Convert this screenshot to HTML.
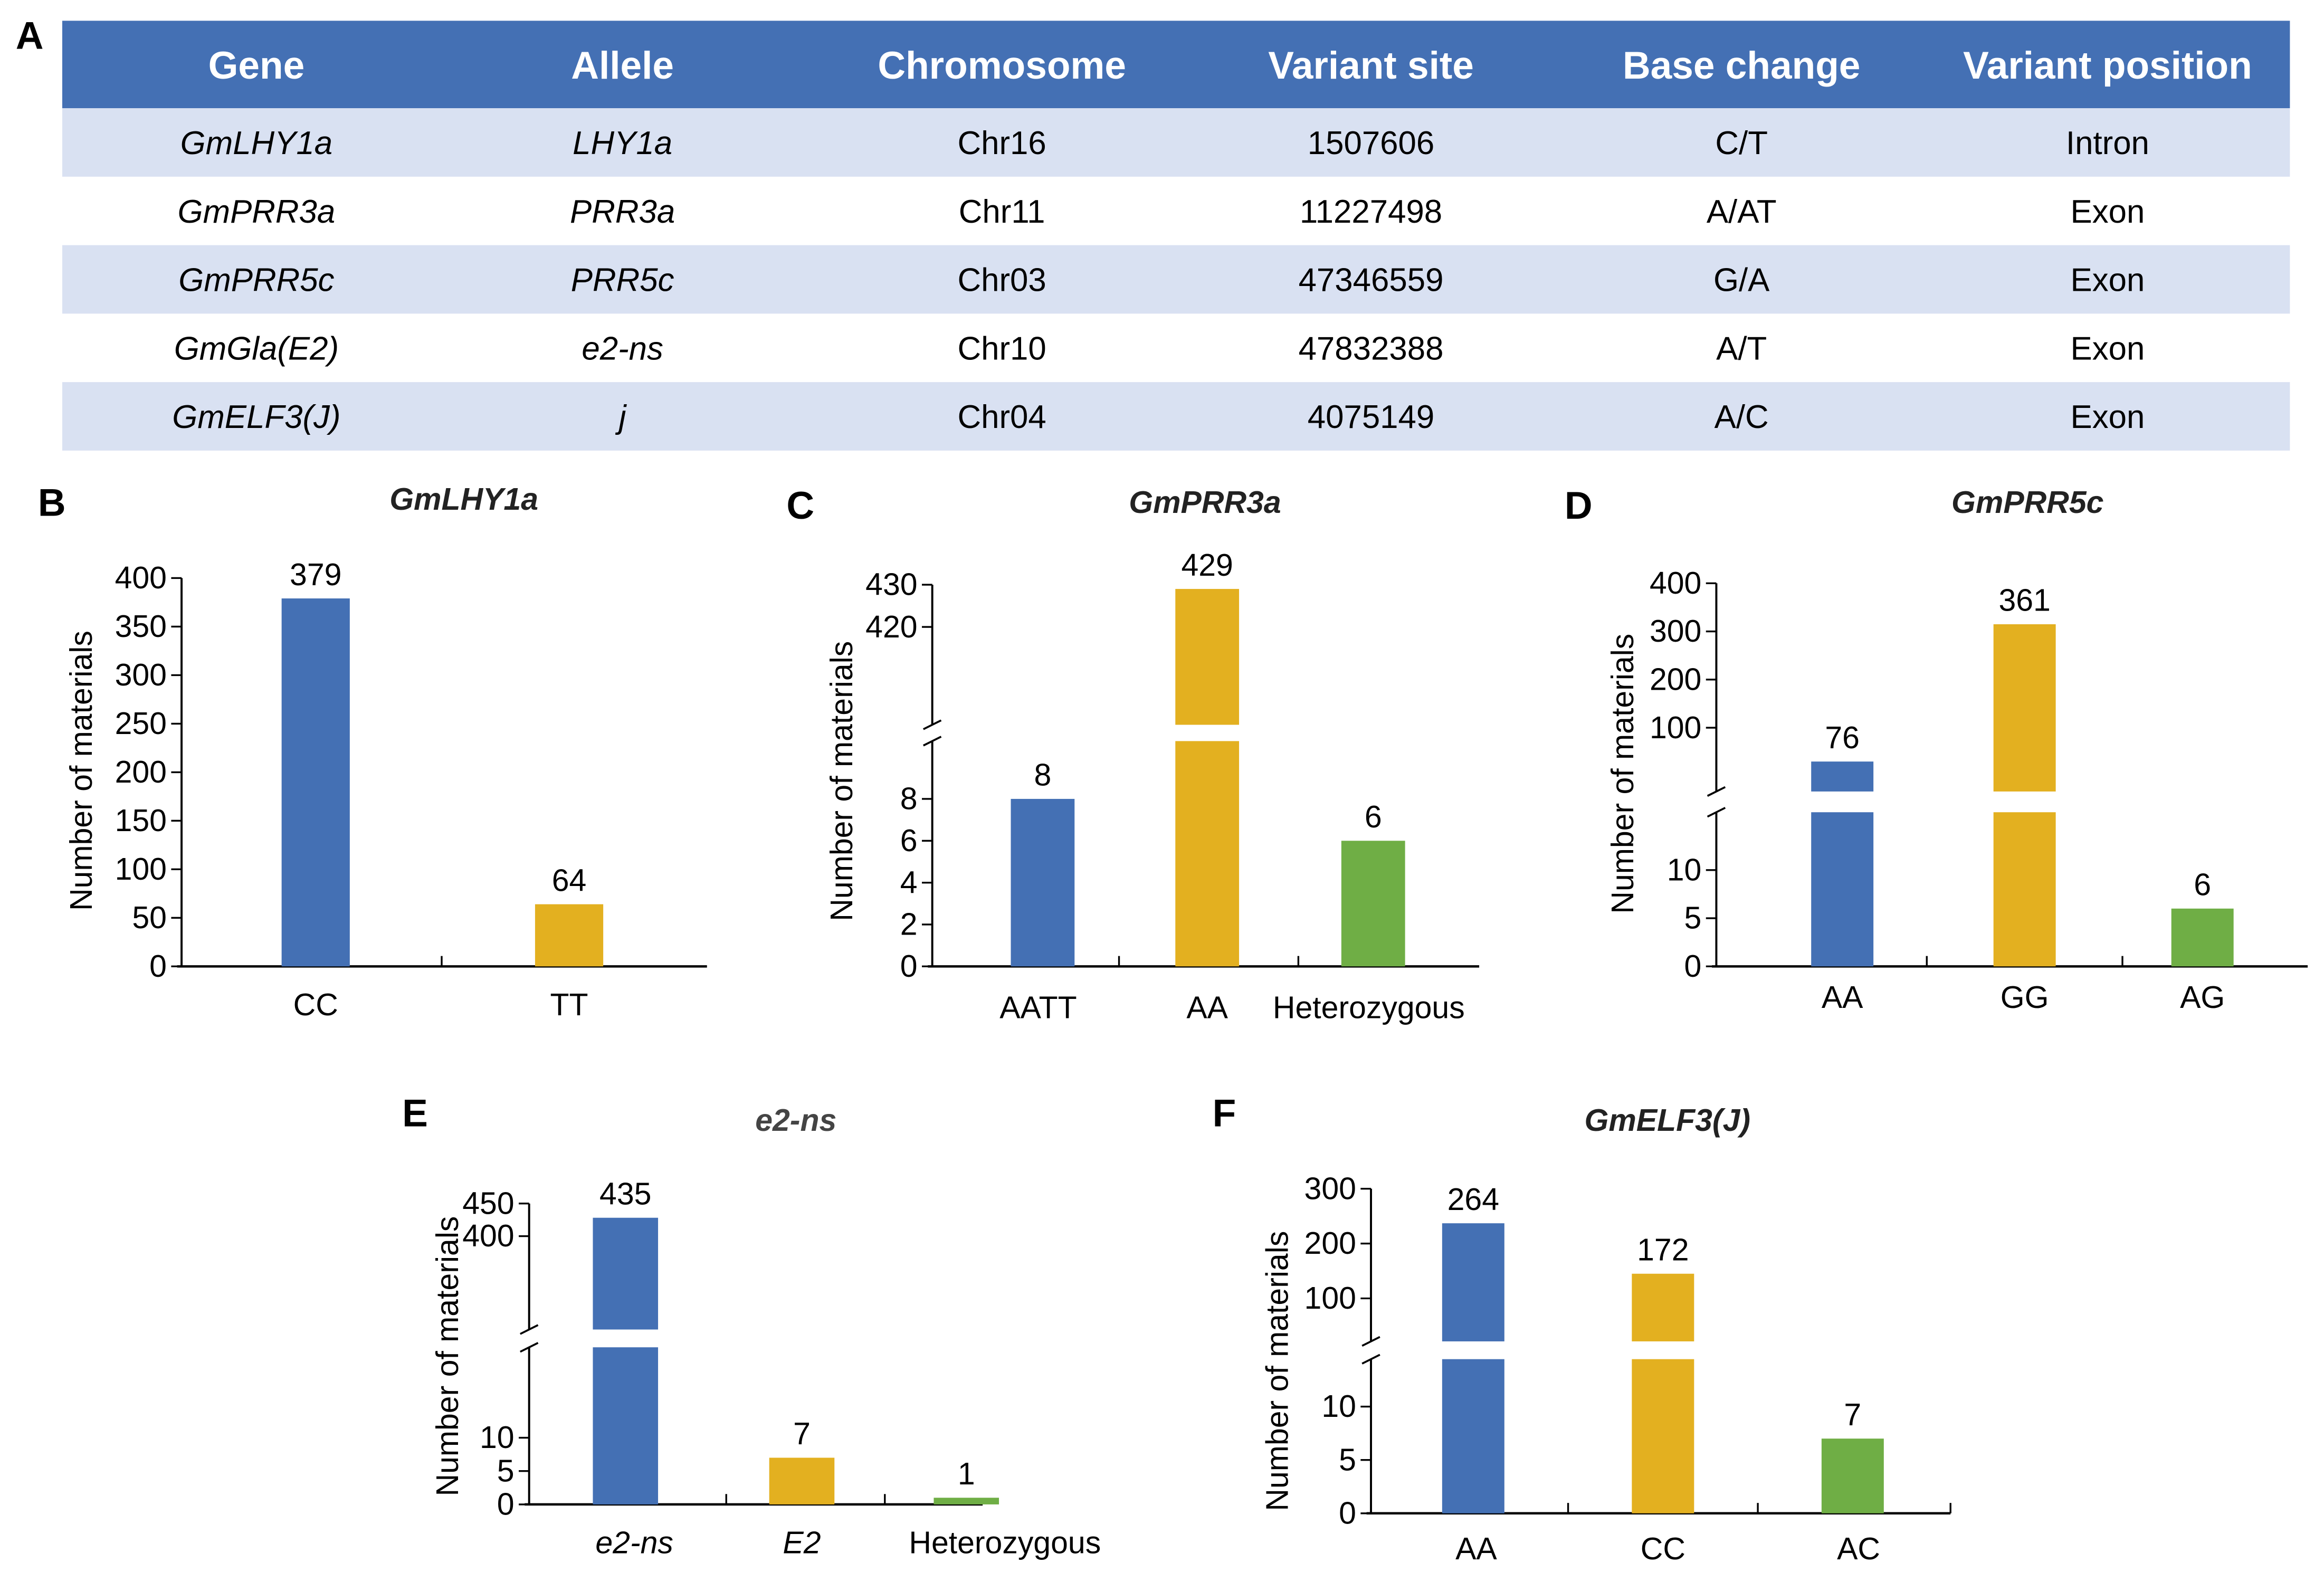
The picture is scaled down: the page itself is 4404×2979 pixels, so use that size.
<!DOCTYPE html>
<html><head><meta charset="utf-8"><style>
html,body{margin:0;padding:0;background:#fff;}
svg{display:block;font-family:"Liberation Sans",Arial,sans-serif;}
</style></head><body>
<svg id="fig" xmlns="http://www.w3.org/2000/svg" width="4404" height="2979" viewBox="0 0 1568 1060.6" preserveAspectRatio="none">
<rect width="1568" height="1061" fill="#fff"/>
<g id="table"></g>
<g id="charts"></g>
</svg>
<script>
// ---------- table data ----------
const tableHeaders = ["Gene","Allele","Chromosome","Variant site","Base change","Variant position"];
const tableGenes = ["GmLHY1a","GmPRR3a","GmPRR5c","GmGla(E2)","GmELF3(J)"];
const tableAlleles = ["LHY1a","PRR3a","PRR5c","e2-ns","j"];
const tableChroms = ["Chr16","Chr11","Chr03","Chr10","Chr04"];
const tableSites = ["1507606","11227498","47346559","47832388","4075149"];
const tableBases = ["C/T","A/AT","G/A","A/T","A/C"];
const tablePositions = ["Intron","Exon","Exon","Exon","Exon"];

// ---------- chart data ----------
const bCategories = ["CC","TT"];
const bValues = [379,64];
const bTicks = [0,50,100,150,200,250,300,350,400];

const cCategories = ["AATT","AA","Heterozygous"];
const cValues = [8,429,6];
const cTicksLow = [0,2,4,6,8];
const cTicksHigh = [420,430];

const dCategories = ["AA","GG","AG"];
const dValues = [76,361,6];
const dTicksLow = [0,5,10];
const dTicksHigh = [100,200,300,400];

const eCategories = ["e2-ns","E2","Heterozygous"];
const eValues = [435,7,1];
const eTicksLow = [0,5,10];
const eTicksHigh = [400,450];

const fCategories = ["AA","CC","AC"];
const fValues = [264,172,7];
const fTicksLow = [0,5,10];
const fTicksHigh = [100,200,300];

const NS="http://www.w3.org/2000/svg";
function mk(parent,tag,attrs,text){const e=document.createElementNS(NS,tag);for(const k in attrs)e.setAttribute(k,attrs[k]);if(text!==undefined)e.textContent=text;parent.appendChild(e);return e;}

// ---------- table ----------
const tg=document.getElementById('table');
const colX=[173,420,676,925,1175,1422];
let t=mk(tg,'text',{x:20,y:33,'font-size':26,'font-weight':'bold','text-anchor':'middle'},'A');


let hr=mk(tg,'rect',{x:42,y:14,width:1503,height:59,fill:'#4470b4'});


tableHeaders.forEach((h,i)=>{const e=mk(tg,'text',{x:colX[i],y:53,'font-size':26,'font-weight':'bold',fill:'#fff','text-anchor':'middle'},h);

});
const rows=tableGenes.map((g,i)=>[g,tableAlleles[i],tableChroms[i],tableSites[i],tableBases[i],tablePositions[i]]);
rows.forEach((r,i)=>{const y0=73+i*46.2;
 if(i%2===0){const rr=mk(tg,'rect',{x:42,y:y0,width:1503,height:46.2,fill:'#d9e1f2'});
 
 }
 r.forEach((c,j)=>{const e=mk(tg,'text',{x:colX[j],y:y0+31,'font-size':22,'text-anchor':'middle','font-style':(j<2?'italic':'normal')},c);
 
 });
});

// ---------- charts ----------
const cg=document.getElementById('charts');
const COLORS=['#4470b4','#e3b020','#6fae45'];
const FS=21;
function chart(o){
 const g=mk(cg,'g',{});
 
 
 const L=mk(g,'text',{x:o.lx,y:o.ly,'font-size':26,'font-weight':'bold','text-anchor':'middle'},o.letter);
 
 
 const T=mk(g,'text',{x:o.tx,y:o.ty,'font-size':21,'font-weight':'bold','font-style':'italic','text-anchor':'middle',fill:o.tcol||'#222'},o.title);
 
 
 const yt=mk(g,'text',{x:0,y:0,'font-size':FS,'text-anchor':'middle',transform:`translate(${o.ytx},${o.yty}) rotate(-90)`},'Number of materials');
 
 
 const ax=o.ax;
 const yLow=v=>o.base - v*o.lowK;
 const yHigh=v=>o.hRefPx - (v-o.hRef)*o.hiK;
 const barOff=o.barOff||0;
 const ext=(o.broken? o.lowTop : yLow(o.ticksLow[o.ticksLow.length-1]));
 const ya=mk(g,'line',{x1:ax,y1:o.base,x2:ax,y2:ext,stroke:'#000','stroke-width':1.4});
 
 
 if(o.broken){
  const yb=mk(g,'line',{x1:ax,y1:o.hiBot,x2:ax,y2:yHigh(o.ticksHigh[o.ticksHigh.length-1]),stroke:'#000','stroke-width':1.4});
  
  
  [o.hiBot,o.lowTop].forEach(yy=>{const s=mk(g,'line',{x1:ax-6,y1:yy+3,x2:ax+6,y2:yy-3,stroke:'#000','stroke-width':1.3});
  
  });
 }
 const xa=mk(g,'line',{x1:ax-3,y1:o.base,x2:o.xend,y2:o.base,stroke:'#000','stroke-width':1.6});
 
 
 const tick=(v,y)=>{const l=mk(g,'line',{x1:ax-7,y1:y,x2:ax,y2:y,stroke:'#000','stroke-width':1.2});
  
  
  const tx=mk(g,'text',{x:ax-10,y:y+7,'font-size':FS,'text-anchor':'end'},String(v));
  
  };
 o.ticksLow.forEach(v=>tick(v,yLow(v)));
 if(o.broken) o.ticksHigh.forEach(v=>tick(v,yHigh(v)));
 o.sep.forEach(x=>{const l=mk(g,'line',{x1:x,y1:o.base,x2:x,y2:o.base-7,stroke:'#000','stroke-width':1.2});
  
  });
 o.cats.forEach((c,i)=>{
  const v=o.vals[i], x0=o.barX[i], w=o.bw, col=COLORS[i];
  let top;
  if(!o.broken || v<=o.lowMax){
   top=yLow(v);
   const r=mk(g,'rect',{x:x0,y:top,width:w,height:o.base-top,fill:col});
   
   
  } else {
   top=yHigh(v)+barOff;
   const r1=mk(g,'rect',{x:x0,y:o.lowTop,width:w,height:o.base-o.lowTop,fill:col});
   
   
   const r2=mk(g,'rect',{x:x0,y:top,width:w,height:Math.max(0,o.hiBot-top),fill:col});
   
   
  }
  const vl=mk(g,'text',{x:x0+w/2,y:top-9,'font-size':FS,'text-anchor':'middle'},String(v));
  
  
  const cl=mk(g,'text',{x:x0+w/2+(o.catDx?o.catDx[i]:0),y:o.catY,'font-size':FS,'text-anchor':'middle','font-style':(o.catItalic&&o.catItalic[i])?'italic':'normal'},c);
  
  
 });
}

chart({name:'chart-b-gmlhy1a',letter:'B',lx:35,ly:348,title:'GmLHY1a',tx:313,ty:344,ytx:62,yty:520,
 ax:122.5,base:652,xend:477,lowK:(652-390)/400,broken:false,ticksLow:bTicks,
 cats:bCategories,vals:bValues,barX:[190,361],bw:46,sep:[298],catY:685});

chart({name:'chart-c-gmprr3a',letter:'C',lx:540,ly:350,title:'GmPRR3a',tx:813,ty:346,ytx:575,yty:527,
 ax:629,base:652,xend:998,lowK:(652-539)/8,broken:true,lowTop:500,hiBot:489,lowMax:9,
 hRef:420,hRefPx:423,hiK:2.85,ticksLow:cTicksLow,ticksHigh:cTicksHigh,
 cats:cCategories,vals:cValues,barX:[682,793,905],bw:43,sep:[755,876],catY:687,catDx:[-3,0,-3]});

chart({name:'chart-d-gmprr5c',letter:'D',lx:1065,ly:350,title:'GmPRR5c',tx:1368,ty:346,ytx:1102,yty:522,
 ax:1158,base:652,xend:1557,lowK:(652-587)/10,broken:true,lowTop:548,hiBot:534,lowMax:16,
 hRef:100,hRefPx:491,hiK:0.325,barOff:15,ticksLow:dTicksLow,ticksHigh:dTicksHigh,
 cats:dCategories,vals:dValues,barX:[1222,1345,1465],bw:42,sep:[1300,1432],catY:680});

chart({name:'chart-e-e2ns',letter:'E',lx:280,ly:760,title:'e2-ns',tx:537,ty:763,tcol:'#444',ytx:309,yty:915,
 ax:357,base:1015,xend:663,lowK:(1015-970)/10,broken:true,lowTop:909,hiBot:897,lowMax:20,
 hRef:400,hRefPx:834,hiK:0.44,barOff:3,ticksLow:eTicksLow,ticksHigh:eTicksHigh,
 cats:eCategories,vals:eValues,barX:[400,519,630],bw:44,sep:[490,597],catY:1048,catDx:[6,0,26],catItalic:[true,true,false]});

chart({name:'chart-f-gmelf3j',letter:'F',lx:826,ly:760,title:'GmELF3(J)',tx:1125,ty:763,ytx:869,yty:925,
 ax:925,base:1021,xend:1316,lowK:(1021-949)/10,broken:true,lowTop:917,hiBot:905,lowMax:14,
 hRef:100,hRefPx:876,hiK:0.37,barOff:10,ticksLow:fTicksLow,ticksHigh:fTicksHigh,
 cats:fCategories,vals:fValues,barX:[973,1101,1229],bw:42,sep:[1058,1186,1316],catY:1052,catDx:[2,0,4]});
</script>
</body></html>
